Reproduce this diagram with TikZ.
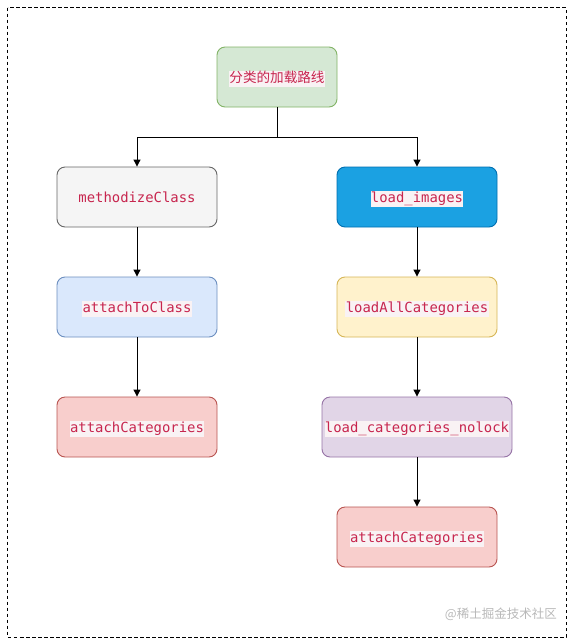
\documentclass[tikz,border=0pt]{standalone}
\usepackage{fontspec}
\setmonofont{DejaVu Sans Mono}
\newfontfamily\cjkfont{Noto Sans CJK SC}
\usetikzlibrary{arrows.meta}
\definecolor{codefg}{HTML}{C7254E}
\definecolor{codebg}{HTML}{F9F2F4}
\definecolor{wm}{HTML}{B8B8B8}
\newcommand{\codebox}[1]{{\setlength{\fboxsep}{0.4pt}\colorbox{codebg}{\rule[-4.4pt]{0pt}{15.4pt}#1}}}
\tikzset{
  box/.style={rounded corners=8pt, line width=0.9pt, minimum width=160pt, minimum height=60pt, inner sep=0pt, text height=13.4pt, text depth=2.6pt, text=codefg, font=\ttfamily\fontsize{13.9}{16}\selectfont},
  greenbox/.style={box, fill={rgb,255:red,213;green,232;blue,212}, draw={rgb,255:red,130;green,179;blue,102}},
  greybox/.style={box, fill={rgb,255:red,245;green,245;blue,245}, draw={rgb,255:red,102;green,102;blue,102}},
  bluebox/.style={box, fill={rgb,255:red,27;green,161;blue,226}, draw={rgb,255:red,0;green,110;blue,175}},
  lbluebox/.style={box, fill={rgb,255:red,218;green,232;blue,252}, draw={rgb,255:red,108;green,142;blue,191}},
  yellowbox/.style={box, fill={rgb,255:red,255;green,242;blue,204}, draw={rgb,255:red,214;green,182;blue,86}},
  redbox/.style={box, fill={rgb,255:red,248;green,206;blue,204}, draw={rgb,255:red,184;green,84;blue,80}},
  purplebox/.style={box, fill={rgb,255:red,225;green,213;blue,231}, draw={rgb,255:red,150;green,115;blue,166}},
  conn/.style={line width=1pt, draw=black},
  arr/.style={conn, -{Triangle[length=7pt,width=7pt]}},
}
\begin{document}
\begin{tikzpicture}[x=1pt,y=-1pt]
\useasboundingbox (0,0) rectangle (571,641);
\draw[dashed, line width=0.9pt, dash pattern=on 3.5pt off 2.5pt] (7.5,7.5) rectangle (566,637);

\node[greenbox, minimum width=120pt] (top) at (277,77) {\cjkfont\fontsize{13.6}{16}\selectfont\codebox{分类的加载路线}};
\node[greybox] (mc) at (137,197) {methodizeClass};
\node[bluebox] (li) at (417,197) {\codebox{load\_images}};
\node[lbluebox] (atc) at (137,307) {\codebox{attachToClass}};
\node[yellowbox] (lac) at (417,307) {\codebox{loadAllCategories}};
\node[redbox] (ac1) at (137,427) {\codebox{attachCategories}};
\node[purplebox, minimum width=190pt] (lcn) at (417,427) {\codebox{load\_categories\_nolock}};
\node[redbox] (ac2) at (417,537) {\codebox{attachCategories}};

\coordinate (j) at (277,137);
\draw[conn] (top) -- (j);
\draw[arr] (j) -| (mc);
\draw[arr] (j) -| (li);
\draw[arr] (mc) -- (atc);
\draw[arr] (atc) -- (ac1);
\draw[arr] (li) -- (lac);
\draw[arr] (lac) -- (lcn);
\draw[arr] (lcn) -- (ac2);

\node[text=wm, inner sep=0pt, anchor=east, font=\cjkfont\fontsize{12.5}{14}\selectfont] (wmk) at (557,614) {@稀土掘金技术社区};
\end{tikzpicture}
\end{document}
